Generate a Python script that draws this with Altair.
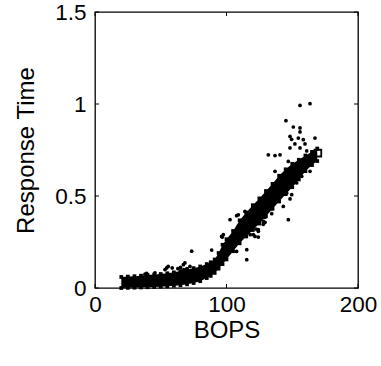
import altair as alt
import pandas as pd

# Dense band (model points) – lower and upper edge
band_x = [20, 25, 30, 35, 40, 45, 50, 55, 60, 65, 70, 75, 80, 85, 88, 91, 94, 97,
          100, 105, 110, 115, 120, 125, 130, 135, 140, 145, 150, 155, 160, 165, 169]
band_lo = [0.000, 0.001, 0.002, 0.003, 0.004, 0.005, 0.007, 0.009, 0.012, 0.015,
           0.020, 0.027, 0.037, 0.054, 0.066, 0.082, 0.105, 0.130, 0.155, 0.200,
           0.243, 0.280, 0.315, 0.350, 0.390, 0.430, 0.470, 0.510, 0.548, 0.590,
           0.635, 0.668, 0.690]
band_hi = [0.060, 0.062, 0.064, 0.067, 0.070, 0.073, 0.076, 0.080, 0.085, 0.092,
           0.100, 0.108, 0.117, 0.130, 0.140, 0.155, 0.190, 0.235, 0.265, 0.310,
           0.368, 0.410, 0.450, 0.487, 0.527, 0.566, 0.610, 0.645, 0.675, 0.697,
           0.720, 0.740, 0.758]

# Scattered measurements (outliers)
out_x = [163.5, 155.9, 145.2, 150.8, 155.9, 155.9, 148.3, 154.6, 149.5, 158.4,
         167.3, 152.0, 159.7, 155.9, 148.3, 161.0, 136.9, 140.7, 131.8, 136.9,
         163.5, 157.2, 153.4, 150.8, 145.8, 149.6, 148.3, 143.2, 147.0, 134.4,
         129.3, 128.0, 124.2, 128.0, 125.5, 129.3, 124.2, 121.7, 118.0, 115.4,
         115.4, 107.7, 114.0, 109.0, 107.7, 102.7, 96.3, 97.6, 88.7, 73.5,
         68.4, 67.2, 72.2, 67.5, 58.7, 54.5, 55.7, 53.2, 45.6, 39.3,
         38.0, 63.0, 65.0, 70.0, 120.4, 122.4, 124.2, 147.0, 96.8]
out_y = [1.002, 0.992, 0.909, 0.875, 0.870, 0.848, 0.824, 0.815, 0.808, 0.806,
         0.815, 0.783, 0.783, 0.761, 0.761, 0.745, 0.720, 0.724, 0.724, 0.634,
         0.634, 0.607, 0.571, 0.571, 0.516, 0.507, 0.484, 0.443, 0.371, 0.404,
         0.357, 0.346, 0.308, 0.362, 0.416, 0.384, 0.317, 0.280, 0.290, 0.208,
         0.154, 0.199, 0.416, 0.398, 0.393, 0.371, 0.280, 0.290, 0.206, 0.200,
         0.136, 0.127, 0.117, 0.100, 0.109, 0.109, 0.117, 0.100, 0.082, 0.080,
         0.075, 0.105, 0.112, 0.105, 0.290, 0.320, 0.277, 0.688, 0.277]

end_x = [169.5]
end_y = [0.733]

x_ticks = [0, 100, 200]
y_ticks = [0, 0.5, 1, 1.5]

FONT = "Liberation Sans"
LFS = 22.5
TFS = 24

band = pd.DataFrame({"x": band_x, "lo": band_lo, "hi": band_hi})
outs = pd.DataFrame({"x": out_x, "y": out_y})
endp = pd.DataFrame({"x": end_x, "y": end_y})
xt = pd.DataFrame({"v": x_ticks})
yt = pd.DataFrame({"v": y_ticks})

xscale = alt.Scale(domain=[0, 200], nice=False, zero=False)
yscale = alt.Scale(domain=[0, 1.5], nice=False, zero=False)

xaxis = alt.Axis(values=x_ticks, title="BOPS", grid=False, domain=False, tickSize=0,
                 labelFontSize=LFS, titleFontSize=TFS, labelFont=FONT, titleFont=FONT,
                 labelColor="black", titleColor="black", labelPadding=5,
                 titlePadding=3, titleFontWeight="normal", labelFlush=False)
yaxis = alt.Axis(values=y_ticks, title="Response Time", grid=False, domain=False,
                 tickSize=0, labelFontSize=LFS, titleFontSize=TFS, labelFont=FONT,
                 titleFont=FONT, labelColor="black", titleColor="black",
                 labelPadding=9, titlePadding=16, titleFontWeight="normal",
                 labelExpr="'' + datum.value", labelFlush=False)

area = alt.Chart(band).mark_area(color="black", opacity=1).encode(
    x=alt.X("x:Q", scale=xscale, axis=xaxis),
    y=alt.Y("lo:Q", scale=yscale, axis=yaxis),
    y2="hi:Q",
)
sq_lo = alt.Chart(band).mark_square(color="black", size=14, opacity=1).encode(
    x=alt.X("x:Q", scale=xscale), y=alt.Y("lo:Q", scale=yscale))
sq_hi = alt.Chart(band).mark_square(color="black", size=14, opacity=1).encode(
    x=alt.X("x:Q", scale=xscale), y=alt.Y("hi:Q", scale=yscale))
dots = alt.Chart(outs).mark_circle(color="black", size=14, opacity=1).encode(
    x=alt.X("x:Q", scale=xscale), y=alt.Y("y:Q", scale=yscale))
endsq = alt.Chart(endp).mark_square(filled=False, color="black", size=45,
                                    strokeWidth=1.8, opacity=1).encode(
    x=alt.X("x:Q", scale=xscale), y=alt.Y("y:Q", scale=yscale))

# inner ticks (box style)
tick_l = alt.Chart(yt).mark_rule(color="black", strokeWidth=1).encode(
    x=alt.datum(0, scale=xscale), x2=alt.datum(3), y=alt.Y("v:Q", scale=yscale))
tick_r = alt.Chart(yt).mark_rule(color="black", strokeWidth=1).encode(
    x=alt.datum(200, scale=xscale), x2=alt.datum(197), y=alt.Y("v:Q", scale=yscale))
tick_b = alt.Chart(xt).mark_rule(color="black", strokeWidth=1).encode(
    y=alt.datum(0, scale=yscale), y2=alt.datum(0.022), x=alt.X("v:Q", scale=xscale))
tick_t = alt.Chart(xt).mark_rule(color="black", strokeWidth=1).encode(
    y=alt.datum(1.5, scale=yscale), y2=alt.datum(1.478), x=alt.X("v:Q", scale=xscale))

chart = alt.layer(area, sq_lo, sq_hi, dots, endsq, tick_l, tick_r, tick_b, tick_t).properties(
    width=263, height=276,
    padding={"left": 95, "top": 12, "right": 23, "bottom": 78},
    autosize=alt.AutoSizeParams(type="none"),
    background="white",
).configure_view(stroke="black", strokeWidth=1.3)

chart.save("out.html", embed_options={"renderer": "svg", "actions": False})
